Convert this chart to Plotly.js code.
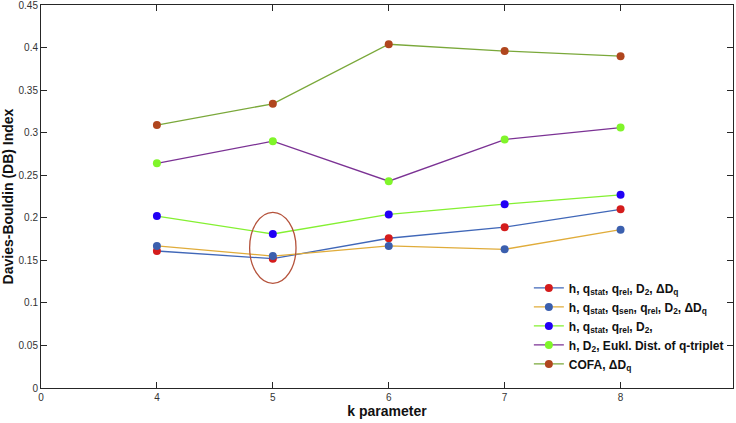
<!DOCTYPE html>
<html>
<head>
<meta charset="utf-8">
<script src="https://cdn.plot.ly/plotly-3.0.1.min.js"></script>
<style>
  html, body { margin: 0; padding: 0; background: #fff; }
  #graph { width: 736px; height: 423px; }
</style>
</head>
<body>
<div id="graph"></div>
<script>
// k values shown on the x axis (equally spaced, "0" at the origin)
const kLabels = ["4", "5", "6", "7", "8"];

// y tick labels
const yTicks = ["0", "0.05", "0.1", "0.15", "0.2", "0.25", "0.3", "0.35", "0.4", "0.45"];

// DB index per feature set
const dbHQstatQrelD2DDq = [0.161, 0.152, 0.176, 0.189, 0.210];
const dbHQstatQsenQrelD2DDq = [0.167, 0.155, 0.167, 0.163, 0.186];
const dbHQstatQrelD2 = [0.202, 0.181, 0.204, 0.216, 0.227];
const dbHD2Eukl = [0.264, 0.290, 0.243, 0.292, 0.306];
const dbCofaDDq = [0.309, 0.334, 0.404, 0.396, 0.390];

const seriesNames = [
  "h, q<sub>stat</sub>, q<sub>rel</sub>, D<sub>2</sub>, ΔD<sub>q</sub>",
  "h, q<sub>stat</sub>, q<sub>sen</sub>, q<sub>rel</sub>, D<sub>2</sub>, ΔD<sub>q</sub>",
  "h, q<sub>stat</sub>, q<sub>rel</sub>, D<sub>2</sub>,",
  "h, D<sub>2</sub>, Eukl. Dist. of q-triplet",
  "COFA, ΔD<sub>q</sub>"
];

// positions 1..5 on the axis, 0 is the origin label
const pos = kLabels.map((k, i) => i + 1);

function line(y, name, lineColor, markerColor) {
  return {
    x: pos, y: y, name: name,
    type: "scatter", mode: "lines+markers",
    line: { color: lineColor, width: 1.3 },
    marker: { color: markerColor, size: 8 }
  };
}

const data = [
  line(dbHQstatQrelD2DDq, seriesNames[0], "#4067b8", "#d41c1c"),
  line(dbHQstatQsenQrelD2DDq, seriesNames[1], "#e0ac3a", "#3b5fae"),
  line(dbHQstatQrelD2, seriesNames[2], "#84f031", "#2100f5"),
  line(dbHD2Eukl, seriesNames[3], "#7b3294", "#80f52a"),
  line(dbCofaDDq, seriesNames[4], "#7aa83a", "#b0461e")
];

// highlight round k = 5
const kMark = pos[kLabels.indexOf("5")];

const axisCommon = {
  showline: true, mirror: "ticks", linecolor: "#262626", linewidth: 1,
  ticks: "inside", ticklen: 6, tickcolor: "#262626",
  showgrid: false, zeroline: false,
  ticklabeloverflow: "allow",
  tickfont: { family: "Liberation Sans, Arial, sans-serif", size: 10, color: "#333" }
};

const layout = {
  width: 736, height: 423,
  margin: { l: 41, r: 3, t: 5, b: 35 },
  paper_bgcolor: "#fff", plot_bgcolor: "#fff",
  showlegend: true,
  legend: {
    x: 0.705, y: 0.025, xanchor: "left", yanchor: "bottom",
    bgcolor: "rgba(255,255,255,0)", borderwidth: 0,
    font: { family: "Liberation Sans, Arial, sans-serif", size: 12, color: "#111", weight: "bold" },
    tracegroupgap: 0, itemwidth: 30
  },
  xaxis: Object.assign({}, axisCommon, {
    range: [0, 5.97],
    tickmode: "array",
    tickvals: [0].concat(pos),
    ticktext: ["0"].concat(kLabels),
    title: { text: "<b>k parameter</b>", standoff: 4,
      font: { family: "Liberation Sans, Arial, sans-serif", size: 14, color: "#111" } }
  }),
  yaxis: Object.assign({}, axisCommon, {
    range: [0, 0.4501],
    tickmode: "array",
    tickvals: yTicks.map(Number),
    ticktext: yTicks,
    title: { text: "<b>Davies-Bouldin (DB) Index</b>", standoff: 2,
      font: { family: "Liberation Sans, Arial, sans-serif", size: 14, color: "#111" } }
  }),
  shapes: [{
    type: "circle", xref: "x", yref: "y",
    x0: kMark - 0.2, x1: kMark + 0.2, y0: 0.123, y1: 0.2065,
    line: { color: "#b5533c", width: 1.3 }
  }]
};

Plotly.newPlot("graph", data, layout, { displayModeBar: false, staticPlot: true });
</script>
</body>
</html>
